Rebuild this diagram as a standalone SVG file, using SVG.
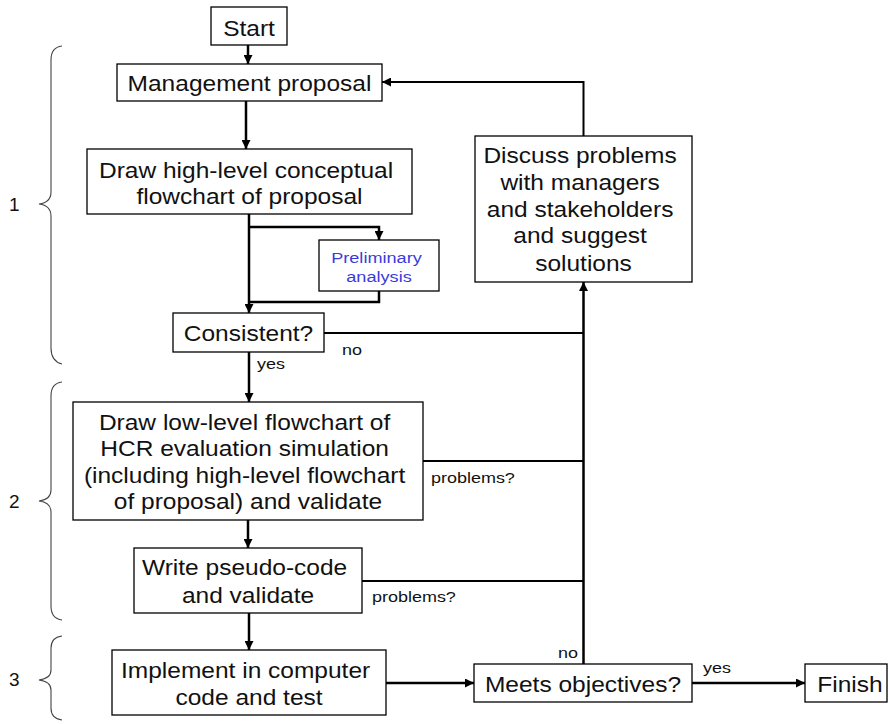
<svg xmlns="http://www.w3.org/2000/svg" width="890" height="724" viewBox="0 0 890 724">
  <defs>
    <marker id="arrow" viewBox="0 0 10 10" refX="10" refY="5" markerWidth="9" markerHeight="9" markerUnits="userSpaceOnUse" orient="auto">
      <path d="M0,0 L10,5 L0,10 z" fill="#000"/>
    </marker>
    <style>
      .box { fill: #fff; stroke: #000; stroke-width: 1.3; }
      .lbl { font-family: "Liberation Sans", Arial, sans-serif; font-size: 21.5px; fill: #111; text-anchor: middle; }
      .small { font-family: "Liberation Sans", Arial, sans-serif; font-size: 15.5px; fill: #111; }
      .blue { font-family: "Liberation Sans", Arial, sans-serif; font-size: 15.5px; fill: #3b3bdb; text-anchor: middle; }
      .num { font-family: "Liberation Sans", Arial, sans-serif; font-size: 19px; fill: #111; }
      .conn { fill: none; stroke: #000; stroke-width: 2.5; }
      .thin { fill: none; stroke: #000; stroke-width: 2; }
      .brace { fill: none; stroke: #444; stroke-width: 1.1; }
    </style>
  </defs>

  <!-- phase braces and numbers -->
  <g id="phases">
    <path class="brace" d="M62,46 C54,47 51,52 51,60 L51,192 C51,199 47,203 39,204 C47,205 51,209 51,216 L51,348 C51,356 54,362 62,364"/>
    <text class="num" x="9" y="211">1</text>
    <path class="brace" d="M62,382 C54,383 51,388 51,396 L51,490 C51,497 47,500 39,501 C47,502 51,505 51,512 L51,606 C51,614 54,619 62,620"/>
    <text class="num" x="9" y="508">2</text>
    <path class="brace" d="M62,636 C54,637 51,641 51,648 L51,670 C51,676 47,679 39,680 C47,681 51,684 51,690 L51,708 C51,715 54,719 62,720"/>
    <text class="num" x="9" y="686">3</text>
  </g>

  <!-- connectors -->
  <g id="connectors">
    <line class="conn" x1="248" y1="45" x2="248" y2="64" marker-end="url(#arrow)"/>
    <line class="conn" x1="246" y1="101" x2="246" y2="149" marker-end="url(#arrow)"/>
    <line class="conn" x1="249" y1="214" x2="249" y2="313" marker-end="url(#arrow)"/>
    <polyline class="conn" points="249,227 379,227 379,240" marker-end="url(#arrow)"/>
    <polyline class="conn" points="379,291 379,302 249,302"/>
    <line class="conn" x1="249" y1="352" x2="249" y2="402" marker-end="url(#arrow)"/>
    <line class="conn" x1="248" y1="520" x2="248" y2="548" marker-end="url(#arrow)"/>
    <line class="conn" x1="249" y1="613" x2="249" y2="650" marker-end="url(#arrow)"/>
    <line class="conn" x1="386" y1="683" x2="474" y2="683" marker-end="url(#arrow)"/>
    <line class="conn" x1="692" y1="683" x2="805" y2="683" marker-end="url(#arrow)"/>
    <line class="conn" x1="583.5" y1="664" x2="583.5" y2="282" marker-end="url(#arrow)"/>
    <polyline class="thin" points="583.5,136 583.5,82 382,82" marker-end="url(#arrow)"/>
    <line class="thin" x1="324" y1="333" x2="583.5" y2="333"/>
    <line class="thin" x1="423" y1="461" x2="583.5" y2="461"/>
    <line class="thin" x1="362" y1="581" x2="583.5" y2="581"/>
    <text class="small" transform="translate(342,355) scale(1.16,1)">no</text>
    <text class="small" transform="translate(257,369) scale(1.16,1)">yes</text>
    <text class="small" transform="translate(431,483) scale(1.16,1)">problems?</text>
    <text class="small" transform="translate(372,602) scale(1.16,1)">problems?</text>
    <text class="small" transform="translate(558,658) scale(1.16,1)">no</text>
    <text class="small" transform="translate(703,673) scale(1.16,1)">yes</text>
  </g>

  <g id="start">
    <rect class="box" x="211" y="7" width="76" height="38"/>
    <text class="lbl" transform="translate(249,36) scale(1.14,1)">Start</text>
  </g>

  <g id="management-proposal">
    <rect class="box" x="117" y="64" width="265" height="37"/>
    <text class="lbl" transform="translate(249.5,91) scale(1.14,1)">Management proposal</text>
  </g>

  <g id="high-level-flowchart">
    <rect class="box" x="87" y="149" width="325" height="65"/>
    <text class="lbl" transform="translate(249.5,178) scale(1.14,1)">
      <tspan x="0" y="0">Draw high-level conceptual</tspan>
      <tspan x="0" y="26">flowchart of proposal</tspan>
    </text>
  </g>

  <g id="preliminary-analysis">
    <rect class="box" x="319" y="240" width="120" height="51"/>
    <text class="blue" transform="translate(379,263) scale(1.17,1)">
      <tspan x="0" y="0">Preliminary</tspan>
      <tspan x="0" y="19">analysis</tspan>
    </text>
  </g>

  <g id="consistent">
    <rect class="box" x="173" y="313" width="151" height="39"/>
    <text class="lbl" transform="translate(248.5,341) scale(1.14,1)">Consistent?</text>
  </g>

  <g id="low-level-flowchart">
    <rect class="box" x="73" y="402" width="350" height="118"/>
    <text class="lbl" transform="translate(248,430) scale(1.14,1)">
      <tspan x="0" y="0">Draw low-level flowchart of</tspan>
      <tspan x="0" y="26.5">HCR evaluation simulation</tspan>
      <tspan x="0" y="53">(including high-level flowchart</tspan>
      <tspan x="0" y="79.5">of proposal) and validate</tspan>
    </text>
  </g>

  <g id="pseudo-code">
    <rect class="box" x="134" y="548" width="228" height="65"/>
    <text class="lbl" transform="translate(248,575) scale(1.14,1)">
      <tspan x="0" y="0">Write pseudo-code</tspan>
      <tspan x="0" y="28">and validate</tspan>
    </text>
  </g>

  <g id="implement">
    <rect class="box" x="112" y="650" width="274" height="65"/>
    <text class="lbl" transform="translate(249,678) scale(1.14,1)">
      <tspan x="0" y="0">Implement in computer</tspan>
      <tspan x="0" y="27">code and test</tspan>
    </text>
  </g>

  <g id="meets-objectives">
    <rect class="box" x="474" y="664" width="218" height="38"/>
    <text class="lbl" transform="translate(583,692) scale(1.14,1)">Meets objectives?</text>
  </g>

  <g id="finish">
    <rect class="box" x="805" y="664" width="82" height="38"/>
    <text class="lbl" transform="translate(850,692) scale(1.14,1)">Finish</text>
  </g>

  <g id="discuss-problems">
    <rect class="box" x="475" y="136" width="217" height="146"/>
    <text class="lbl" transform="translate(583.5,163) scale(1.14,1)">
      <tspan x="0" y="0">Discuss problems</tspan>
      <tspan x="0" y="27">with managers</tspan>
      <tspan x="0" y="54">and stakeholders</tspan>
      <tspan x="0" y="80.5">and suggest</tspan>
      <tspan x="0" y="108">solutions</tspan>
    </text>
  </g>
</svg>
